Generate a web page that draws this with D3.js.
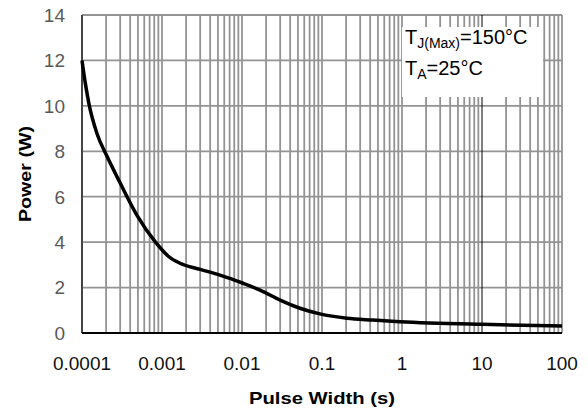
<!DOCTYPE html>
<html lang="en">
<head>
  <meta charset="UTF-8">
  <title>Power vs Pulse Width</title>
  <script src="https://cdn.jsdelivr.net/npm/d3@7"></script>
  <style>
    body { margin: 0; background: #fff; }
    text { font-family: "Liberation Sans", Arial, sans-serif; }
  </style>
</head>
<body>
<div id="grafica"></div>
<script>
// datos
pulso = [0.0001, 0.00011, 0.000122, 0.000155, 0.000204, 0.0003, 0.000483, 0.00082, 0.0012, 0.00168, 0.003, 0.0053, 0.0103, 0.0168, 0.03, 0.053, 0.094, 0.205, 0.43, 0.94, 10, 100]
potencia = [12.0, 11.0, 10.1, 8.75, 7.8, 6.6, 5.2, 4.02, 3.38, 3.07, 2.8, 2.55, 2.19, 1.89, 1.45, 1.09, 0.84, 0.65, 0.57, 0.50, 0.38, 0.31]
xTicks = [0.0001, 0.001, 0.01, 0.1, 1, 10, 100]
xTickLabels = ['0.0001', '0.001', '0.01', '0.1', '1', '10', '100']
yTicks = [0, 2, 4, 6, 8, 10, 12, 14]
leyenda = ['150°C', '25°C']

ancho_total = 588
alto_total = 414
margin = {left: 82, right: 26, top: 15, bottom: 81}
ancho = ancho_total - margin.left - margin.right
alto = alto_total - margin.top - margin.bottom

svg = d3.select('#grafica')
  .append('svg')
  .attr('width', ancho_total)
  .attr('height', alto_total)

g = svg.append('g')
  .attr('transform', `translate(${margin.left},${margin.top})`)

x = d3.scaleLog().domain([0.0001, 100]).range([0, ancho])
y = d3.scaleLinear().domain([0, 14]).range([alto, 0])

// grid vertical: mayores y menores
menores = []
for (let e = -4; e < 2; e++) {
  for (let k = 2; k <= 9; k++) menores.push(k * Math.pow(10, e))
}
g.append('g').selectAll('line')
  .data(menores.concat(xTicks.filter(d => d !== 10)))
  .enter().append('line')
    .attr('x1', d => x(d)).attr('x2', d => x(d))
    .attr('y1', 0).attr('y2', alto)
    .attr('stroke', '#939393').attr('stroke-width', 1.8)

// grid horizontal
g.append('g').selectAll('line')
  .data(yTicks)
  .enter().append('line')
    .attr('x1', 0).attr('x2', ancho)
    .attr('y1', d => y(d)).attr('y2', d => y(d))
    .attr('stroke', '#939393').attr('stroke-width', 1.8)

g.append('line')
  .attr('x1', x(10)).attr('x2', x(10))
  .attr('y1', 0).attr('y2', alto)
  .attr('stroke', '#000').attr('stroke-width', 1)

// ejes
g.append('line')
  .attr('x1', 0).attr('x2', 0).attr('y1', 0).attr('y2', alto)
  .attr('stroke', '#444').attr('stroke-width', 2)
g.append('line')
  .attr('x1', 0).attr('x2', ancho).attr('y1', alto).attr('y2', alto)
  .attr('stroke', '#000').attr('stroke-width', 2.2)

// caja de leyenda
g.append('rect')
  .attr('x', 320).attr('y', 12)
  .attr('width', 141).attr('height', 70)
  .attr('fill', '#fff')

t1 = g.append('text')
  .attr('x', 323).attr('y', 29)
  .attr('font-size', 20).attr('fill', '#000')
t1.append('tspan').text('T')
t1.append('tspan').attr('font-size', 14).attr('dy', 4).text('J(Max)')
t1.append('tspan').attr('dy', -4).text('=' + leyenda[0])

t2 = g.append('text')
  .attr('x', 323).attr('y', 60)
  .attr('font-size', 20).attr('fill', '#000')
t2.append('tspan').text('T')
t2.append('tspan').attr('font-size', 14).attr('dy', 4).text('A')
t2.append('tspan').attr('dy', -4).text('=' + leyenda[1])

// curva
linea = d3.line()
  .x((d, i) => x(pulso[i]))
  .y(d => y(d))
  .curve(d3.curveMonotoneX)

g.append('path')
  .datum(potencia)
  .attr('d', linea)
  .attr('fill', 'none')
  .attr('stroke', '#000')
  .attr('stroke-width', 3.5)

// etiquetas de ticks
g.append('g').selectAll('text')
  .data(yTicks)
  .enter().append('text')
    .attr('x', -17)
    .attr('y', d => y(d))
    .attr('dy', '0.36em')
    .attr('text-anchor', 'end')
    .attr('font-size', 19)
    .attr('fill', '#595959')
    .text(d => d)

g.append('g').selectAll('text')
  .data(xTicks)
  .enter().append('text')
    .attr('x', d => x(d))
    .attr('y', alto + 37)
    .attr('text-anchor', 'middle')
    .attr('font-size', 19)
    .attr('fill', '#111')
    .text((d, i) => xTickLabels[i])

// titulos
svg.append('text')
  .attr('x', margin.left + ancho / 2)
  .attr('y', 404)
  .attr('text-anchor', 'middle')
  .attr('font-size', 17)
  .attr('font-weight', 'bold')
  .attr('textLength', 146)
  .attr('lengthAdjust', 'spacingAndGlyphs')
  .text('Pulse Width (s)')

svg.append('text')
  .attr('transform', 'translate(31,174) rotate(-90)')
  .attr('text-anchor', 'middle')
  .attr('font-size', 17)
  .attr('font-weight', 'bold')
  .attr('textLength', 96)
  .attr('lengthAdjust', 'spacingAndGlyphs')
  .text('Power (W)')
</script>
</body>
</html>
